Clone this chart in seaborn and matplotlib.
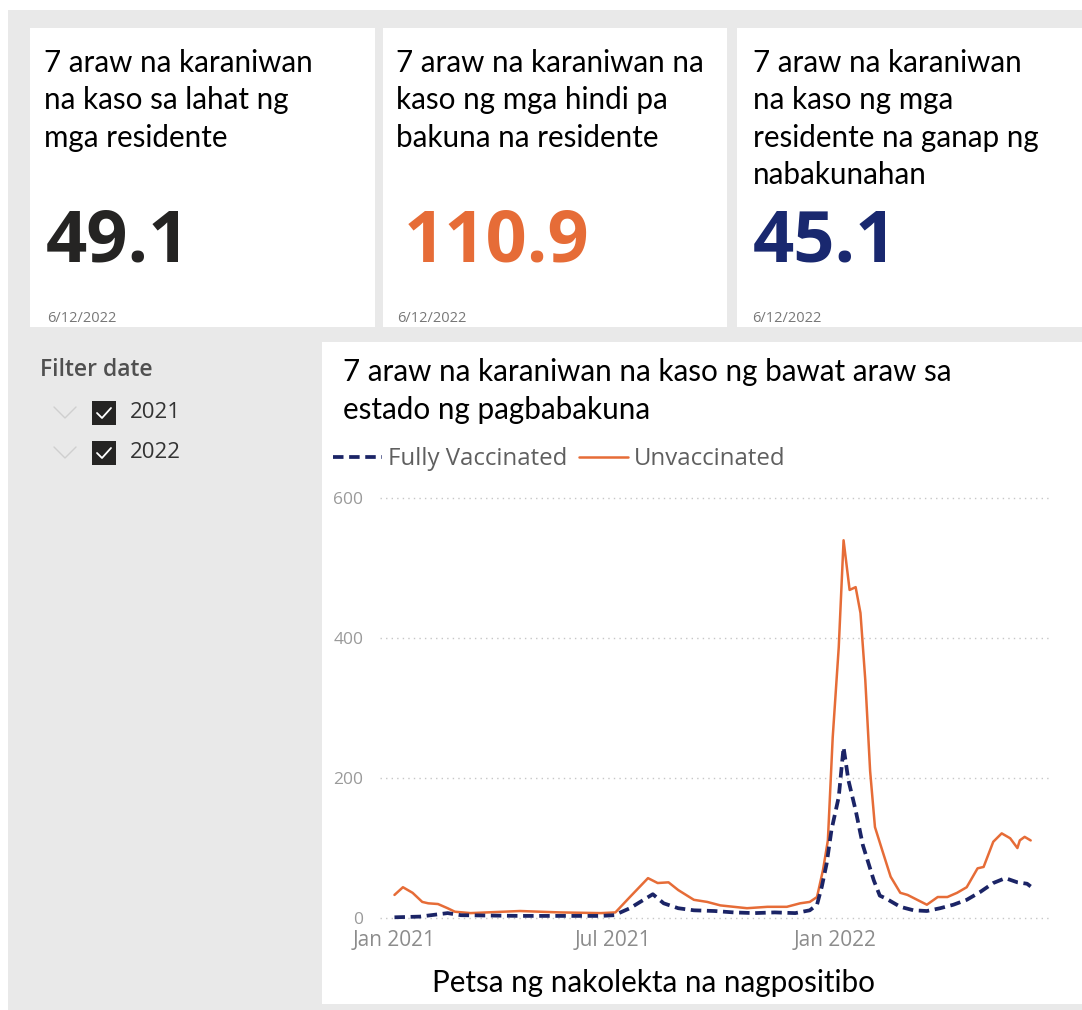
import matplotlib
matplotlib.use("Agg")
import matplotlib.pyplot as plt
import matplotlib.dates as mdates
from matplotlib.patches import Rectangle
from matplotlib.lines import Line2D
import pandas as pd
import seaborn as sns

# --- data ---
card_titles = [
    ["7 araw na karaniwan", "na kaso sa lahat ng", "mga residente"],
    ["7 araw na karaniwan na", "kaso ng mga hindi pa", "bakuna na residente"],
    ["7 araw na karaniwan", "na kaso ng mga", "residente na ganap ng", "nabakunahan"],
]
card_values = [49.1, 110.9, 45.1]
card_date = "6/12/2022"
filter_years = ["2021", "2022"]

unvax_dates = [
    "2021-01-01", "2021-01-08", "2021-01-16", "2021-01-24", "2021-01-29", "2021-02-06",
    "2021-02-14", "2021-02-20", "2021-03-05", "2021-04-15", "2021-05-18", "2021-06-21",
    "2021-07-03", "2021-07-15", "2021-07-30", "2021-08-07", "2021-08-16", "2021-08-24",
    "2021-09-06", "2021-09-17", "2021-09-28", "2021-10-09", "2021-10-20", "2021-11-06",
    "2021-11-22", "2021-12-03", "2021-12-11", "2021-12-17", "2021-12-22", "2021-12-26",
    "2021-12-30", "2022-01-04", "2022-01-08", "2022-01-13", "2022-01-18", "2022-01-22",
    "2022-01-26", "2022-01-30", "2022-02-03", "2022-02-09", "2022-02-16", "2022-02-24",
    "2022-03-02", "2022-03-10", "2022-03-18", "2022-03-27", "2022-04-04", "2022-04-12",
    "2022-04-20", "2022-04-29", "2022-05-04", "2022-05-12", "2022-05-19", "2022-05-26",
    "2022-06-01", "2022-06-03", "2022-06-07", "2022-06-12",
]
unvax_values = [
    33, 44, 36, 23, 21, 20,
    14, 9, 7, 10, 8, 7,
    8, 30, 57, 50, 51, 40,
    26, 23, 18, 16, 14, 16,
    16, 21, 23, 30, 69, 111,
    258, 387, 540, 469, 473, 436,
    340, 210, 130, 97, 59, 36,
    33, 26, 19, 30, 30, 36,
    44, 71, 73, 109, 121, 114,
    100, 111, 116, 110.9,
]

vax_dates = [
    "2021-01-01", "2021-01-22", "2021-02-14", "2021-02-25", "2021-04-15", "2021-06-21",
    "2021-07-02", "2021-07-15", "2021-08-03", "2021-08-12", "2021-08-24", "2021-09-06",
    "2021-09-23", "2021-10-09", "2021-10-26", "2021-11-12", "2021-11-29", "2021-12-11",
    "2021-12-17", "2021-12-21", "2021-12-25", "2021-12-29", "2022-01-04", "2022-01-08",
    "2022-01-12", "2022-01-18", "2022-01-24", "2022-02-02", "2022-02-07", "2022-02-12",
    "2022-02-24", "2022-03-07", "2022-03-18", "2022-03-29", "2022-04-09", "2022-04-20",
    "2022-05-01", "2022-05-12", "2022-05-22", "2022-06-01", "2022-06-09", "2022-06-12",
]
vax_values = [
    1, 2, 7, 4, 3, 3,
    4, 14, 34, 21, 14, 11,
    10, 8, 7, 8, 7, 11,
    19, 45, 78, 126, 173, 244,
    197, 154, 104, 54, 32, 28,
    16, 11, 10, 14, 19, 26,
    37, 50, 57, 51, 49, 45.1,
]

y_ticks = [0, 200, 400, 600]
x_ticks = ["2021-01-01", "2021-07-01", "2022-01-01"]
x_ticklabels = ["Jan 2021", "Jul 2021", "Jan 2022"]

ORANGE = "#e66c37"
NAVY = "#1b2466"
BG = "#e9e9e9"

sns.set_theme(style="white")
plt.rcParams["font.family"] = ["Open Sans", "DejaVu Sans"]

W, H = 1082, 1010
fig = plt.figure(figsize=(W / 100, H / 100), dpi=100, facecolor="white")


def fx(x):
    return x / W


def fy(y):
    return 1 - y / H


def box(x0, y0, x1, y1, color):
    fig.patches.append(Rectangle((fx(x0), fy(y1)), (x1 - x0) / W, (y1 - y0) / H,
                                 transform=fig.transFigure, facecolor=color,
                                 edgecolor="none", zorder=-2))


# page background and white tiles
box(8, 10, W, H, BG)
box(30, 28, 375, 327, "white")
box(383, 28, 727, 327, "white")
box(737, 28, W, 327, "white")
box(322, 342, W, 1004, "white")

# KPI cards
title_font = ["Lato", "DejaVu Sans"]
TITLE_SIZE = 21.3
card_x = [44, 396, 753]
num_x = [46, 404, 753]
date_x = [47, 397, 752]
num_colors = ["#252423", ORANGE, "#19286f"]
for i in range(3):
    for j, line in enumerate(card_titles[i]):
        fig.text(fx(card_x[i]), fy(72 + 37.5 * j), line, family=title_font,
                 fontsize=TITLE_SIZE, color="black", va="baseline")
    fig.text(fx(num_x[i]), fy(262), f"{card_values[i]:.1f}", fontsize=52,
             fontweight="bold", color=num_colors[i], va="baseline")
    fig.text(fx(date_x[i]), fy(322), card_date, fontsize=10.5, color="#777777",
             va="baseline")

# slicer
fig.text(fx(40), fy(376), "Filter date", fontsize=16.5, fontweight="semibold",
         color="#505050", va="baseline")
for k, year in enumerate(filter_years):
    yc = 413 + 40 * k
    fig.add_artist(Line2D([fx(54), fx(65), fx(76)], [fy(yc - 6), fy(yc + 5), fy(yc - 6)],
                          transform=fig.transFigure, color="#cfcfcf", lw=1))
    box(92, yc - 12, 116, yc + 12, "#252423")
    fig.add_artist(Line2D([fx(97), fx(102), fx(111)], [fy(yc), fy(yc + 5), fy(yc - 5)],
                          transform=fig.transFigure, color="white", lw=1.3))
    fig.text(fx(130), fy(yc), year, fontsize=16, color="#333333", va="center")

# chart header
fig.text(fx(343), fy(381), "7 araw na karaniwan na kaso ng bawat araw sa",
         family=title_font, fontsize=TITLE_SIZE, color="black", va="baseline")
fig.text(fx(343), fy(419), "estado ng pagbabakuna",
         family=title_font, fontsize=TITLE_SIZE, color="black", va="baseline")

# line chart
ax = fig.add_axes([fx(380), fy(925), (1050 - 380) / W, (925 - 492) / H])
ax.set_facecolor("none")
sns.lineplot(x=pd.to_datetime(vax_dates), y=vax_values, color=NAVY, lw=2.7,
             linestyle=(0, (2.8, 1.5)), label="Fully Vaccinated", ax=ax, zorder=3)
sns.lineplot(x=pd.to_datetime(unvax_dates), y=unvax_values, color=ORANGE, lw=1.8,
             label="Unvaccinated", ax=ax, zorder=2)

ax.set_xlim(mdates.date2num(pd.Timestamp("2020-12-20")),
            mdates.date2num(pd.Timestamp("2022-06-28")))
ax.set_ylim(-10, 609)
ax.set_yticks(y_ticks)
ax.set_xticks(mdates.date2num(pd.to_datetime(x_ticks)))
ax.set_xticklabels(x_ticklabels)
ax.tick_params(axis="y", length=0, pad=12, labelsize=12.5, labelcolor="#9a9a9a")
ax.tick_params(axis="x", length=0, pad=3.5, labelsize=15, labelcolor="#8c8c8c")
ax.yaxis.grid(True, linestyle=(0, (1, 3)), color="#c6c6c6", lw=1)
ax.xaxis.grid(False)
sns.despine(ax=ax, left=True, bottom=True)
ax.set_xlabel("")
ax.set_ylabel("")

ax.legend(loc="center left", bbox_to_anchor=(fx(333), fy(459)),
          bbox_transform=fig.transFigure, ncol=2, frameon=False, fontsize=17.3,
          handlelength=2.05, handletextpad=0.25, columnspacing=0.46,
          borderpad=0, borderaxespad=0, labelcolor="#5f5f5f")

fig.text(fx(432), fy(992), "Petsa ng nakolekta na nagpositibo",
         family=title_font, fontsize=TITLE_SIZE, color="black", va="baseline")

fig.savefig("out.png", dpi=100, facecolor="white")
